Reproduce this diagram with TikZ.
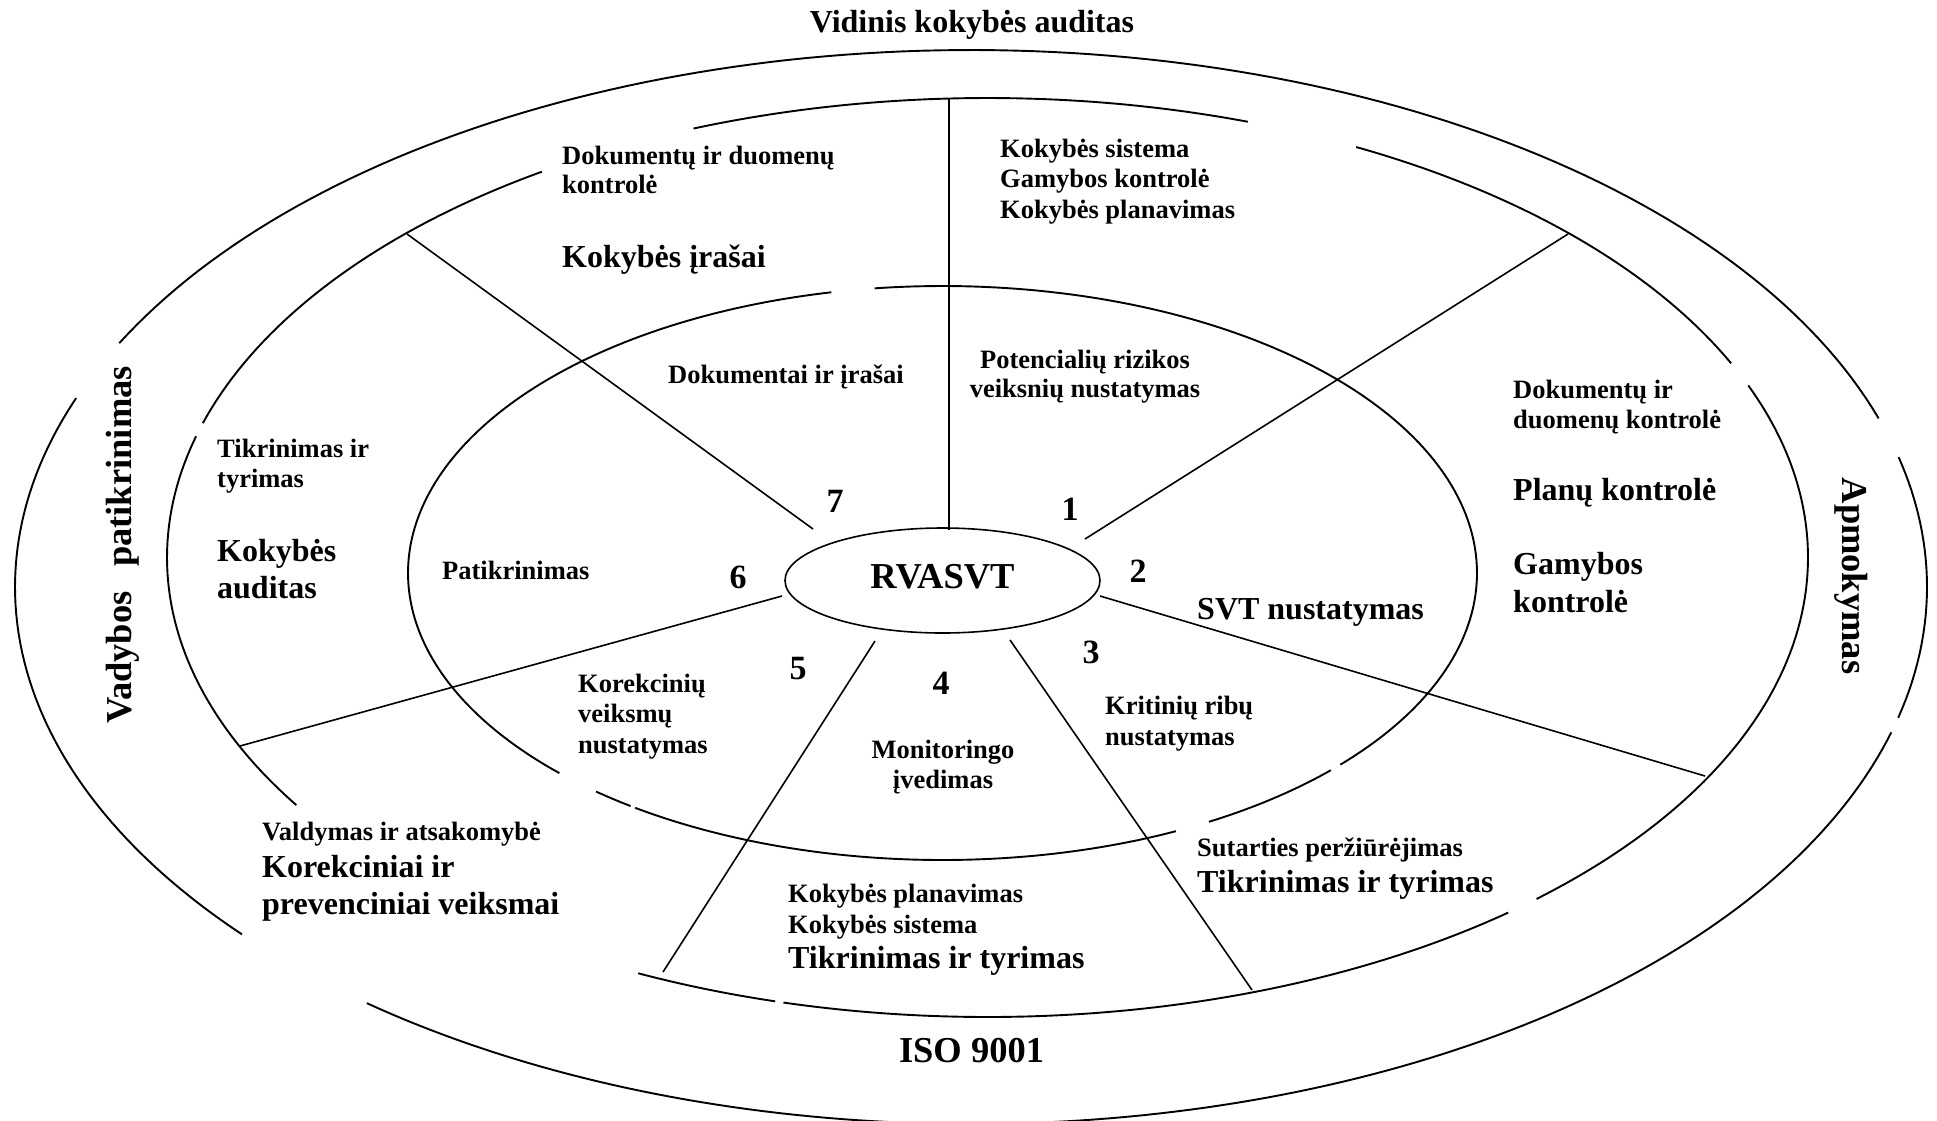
\documentclass[tikz,border=0pt]{standalone}
\usepackage{fontspec}
\setmainfont{Liberation Serif}
\usetikzlibrary{shapes.geometric}

\begin{document}
\begin{tikzpicture}[x=1pt,y=-1pt,
  ring/.style={line width=1.9pt},
  spoke/.style={line width=1.6pt},
  small/.style={font=\fontsize{26.5}{30}\selectfont\bfseries, inner sep=0pt, anchor=base west},
  large/.style={font=\fontsize{32}{37}\selectfont\bfseries, inner sep=0pt, anchor=base west},
  num/.style={font=\fontsize{34}{40}\selectfont\bfseries, inner sep=0pt, anchor=base},
  huge/.style={font=\fontsize{36.5}{42}\selectfont\bfseries, inner sep=0pt, anchor=base},
]
\fill[white] (0,0) rectangle (1937,1120);
\useasboundingbox (0,0) rectangle (1937,1120);

% outer ring (pieces of one ellipse)
\foreach \a/\b in {-14.1/14, 18.3/153, 159.4/220.3, 230.8/344.3}
  \draw[ring] plot[domain=\a:\b, samples=120] ({971+956*cos(\x)},{587-537*sin(\x)});

% middle ring
\foreach \a/\b in {-48/22, 25/63.3, 71.5/111, 122.9/163, 164.7/212.6, 244.8/255, 255.6/309.4}
  \draw[ring] plot[domain=\a:\b, samples=120] ({987.5+820.5*cos(\x)},{557.5-459.5*sin(\x)});

% inner ring
\foreach \a/\b in {-41.9/97.3, 102/224.2, 229.6/234.3, 234.9/295.9, 299.9/316.6}
  \draw[ring] plot[domain=\a:\b, samples=120] ({942.5+534.5*cos(\x)},{573-287*sin(\x)});

% core
\node[ellipse, draw, line width=1.6pt, minimum width=315pt, minimum height=105pt,
      inner sep=0pt, text height=24pt, text depth=9pt,
      font=\fontsize{36.5}{42}\selectfont\bfseries] (core) at (942.5,580.5) {RVASVT};

% spokes between the sectors
\coordinate (s71) at (949,530);  \coordinate (e71) at (949,98);
\coordinate (s12) at (1085,539); \coordinate (e12) at (1568,234);
\coordinate (s23) at (1100,596); \coordinate (e23) at (1705,776);
\coordinate (s34) at (1010,640); \coordinate (e34) at (1252,990);
\coordinate (s45) at (875,641);  \coordinate (e45) at (663,972);
\coordinate (s56) at (782,596);  \coordinate (e56) at (240,746);
\coordinate (s67) at (813,529);  \coordinate (e67) at (407,234);
\foreach \p in {71,12,23,34,45,56,67}
  \draw[spoke] (s\p) -- (e\p);

% sector numbers
\node[num] (n1) at (1070,520) {1};
\node[num] (n2) at (1138,582) {2};
\node[num] (n3) at (1091,663) {3};
\node[num] (n4) at (941,694) {4};
\node[num] (n5) at (798,679) {5};
\node[num] (n6) at (738,588) {6};
\node[num] (n7) at (835,512) {7};

% titles round the rings
\node[large, anchor=base] (top) at (972,32) {Vidinis kokybės auditas};
\node[huge] (iso) at (971.5,1062) {ISO 9001};
\node[huge, rotate=90] (vad) at (131.5,545) {Vadybos\hspace{0.42em} patikrinimas};
\node[huge, rotate=-90] (apm) at (1842,576) {Apmokymas};

% inner band
\node[small] (i7) at (668,383) {Dokumentai ir įrašai};
\node[small, anchor=base] (i1a) at (1085,368) {Potencialių rizikos};
\node[small, anchor=base] (i1b) at (1085,397) {veiksnių nustatymas};
\node[large] (i2) at (1197,619) {SVT nustatymas};
\node[small] (i3a) at (1105,714) {Kritinių ribų};
\node[small] (i3b) at (1105,745) {nustatymas};
\node[small, anchor=base] (i4a) at (943,758) {Monitoringo};
\node[small, anchor=base] (i4b) at (943,788.5) {įvedimas};
\node[small] (i5a) at (578,692) {Korekcinių};
\node[small] (i5b) at (578,722.5) {veiksmų};
\node[small] (i5c) at (578,753) {nustatymas};
\node[small] (i6) at (442,579) {Patikrinimas};

% outer band
\node[small] (o7a) at (562,164) {Dokumentų ir duomenų};
\node[small] (o7b) at (562,193.5) {kontrolė};
\node[large] (o7c) at (562,267) {Kokybės įrašai};
\node[small] (o1a) at (1000,157) {Kokybės sistema};
\node[small] (o1b) at (1000,187.5) {Gamybos kontrolė};
\node[small] (o1c) at (1000,218) {Kokybės planavimas};
\node[small] (o2a) at (1513,398) {Dokumentų ir};
\node[small] (o2b) at (1513,428) {duomenų kontrolė};
\node[large] (o2c) at (1513,500) {Planų kontrolė};
\node[large] (o2d) at (1513,574) {Gamybos};
\node[large] (o2e) at (1513,612) {kontrolė};
\node[small] (o3a) at (1197,856) {Sutarties peržiūrėjimas};
\node[large] (o3b) at (1197,892) {Tikrinimas ir tyrimas};
\node[small] (o4a) at (788,902) {Kokybės planavimas};
\node[small] (o4b) at (788,933) {Kokybės sistema};
\node[large] (o4c) at (788,968) {Tikrinimas ir tyrimas};
\node[small] (o5a) at (262,840) {Valdymas ir atsakomybė};
\node[large] (o5b) at (262,877) {Korekciniai ir};
\node[large] (o5c) at (262,914) {prevenciniai veiksmai};
\node[small] (o6a) at (217,457) {Tikrinimas ir};
\node[small] (o6b) at (217,487) {tyrimas};
\node[large] (o6c) at (217,561) {Kokybės};
\node[large] (o6d) at (217,598) {auditas};
\end{tikzpicture}
\end{document}
